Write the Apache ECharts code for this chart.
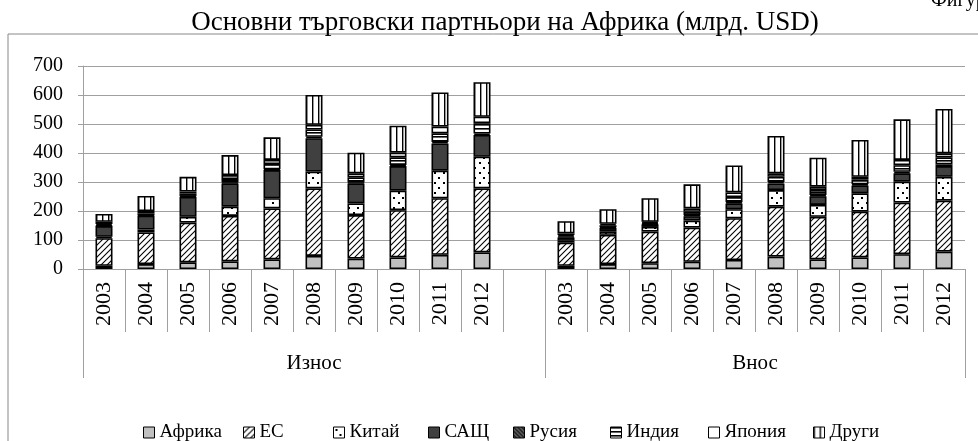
<!DOCTYPE html>
<html>
<head>
<meta charset="utf-8">
<script src="https://cdn.jsdelivr.net/npm/echarts@6/dist/echarts.min.js"></script>
<style>
html,body{margin:0;padding:0;background:#fff;}
#c{width:978px;height:441px;}
</style>
</head>
<body>
<div id="c"></div>
<script>
var years = ['2003','2004','2005','2006','2007','2008','2009','2010','2011','2012'];
var groupNames = ['Износ', 'Внос'];
var seriesNames = ['Африка','ЕС','Китай','САЩ','Русия','Индия','Япония','Други'];
var yTicks = [0,100,200,300,400,500,600,700];

var expAfrica = [11,17,23,26,33,45,36,40,49,57];
var expEU     = [95,109,137,157,176,233,150,163,195,221];
var expChina  = [5,10,20,32,35,58,40,67,95,109];
var expUSA    = [37,48,69,80,97,115,69,85,94,75];
var expRussia = [2,2,3,3,3,5,3,4,5,5];
var expIndia  = [5,6,8,12,18,25,18,26,30,36];
var expJapan  = [8,8,7,14,14,16,14,16,23,22];
var expOther  = [27,52,51,69,78,103,71,93,118,119];

var impAfrica = [11,17,20,25,31,43,33,40,51,60];
var impEU     = [80,101,109,118,144,172,147,158,178,176];
var impChina  = [6,12,16,24,31,57,41,63,72,82];
var impUSA    = [12,12,8,15,20,23,30,27,29,37];
var impRussia = [3,3,2,3,4,5,4,4,5,6];
var impIndia  = [5,6,4,12,18,18,17,16,23,24];
var impJapan  = [6,5,4,12,16,12,12,10,18,14];
var impOther  = [42,50,81,83,93,129,100,127,140,153];

var expData = [expAfrica,expEU,expChina,expUSA,expRussia,expIndia,expJapan,expOther];
var impData = [impAfrica,impEU,impChina,impUSA,impRussia,impIndia,impJapan,impOther];

// categories: export years, one empty gap, import years
var categories = years.concat(['']).concat(years);
var nExp = years.length + 1, nImp = years.length, nAll = categories.length;

function pattern(w, h, draw) {
  var cv = document.createElement('canvas');
  cv.width = w; cv.height = h;
  var ctx = cv.getContext('2d');
  ctx.fillStyle = '#fff'; ctx.fillRect(0,0,w,h);
  ctx.fillStyle = '#000'; ctx.strokeStyle = '#000';
  draw(ctx, w, h);
  return {image: cv, repeat: 'repeat'};
}
var fills = [
  '#c0c0c0',
  pattern(6, 6, function(c,w,h){ c.lineWidth=1.1;
     [-w, 0, w].forEach(function(o){ c.beginPath(); c.moveTo(o-1,h+1); c.lineTo(o+w+1,-1); c.stroke(); }); }),
  pattern(9, 10, function(c){ c.fillRect(2,2,2,2); c.fillRect(6,7,2,2); }),
  '#404040',
  pattern(4, 4, function(c,w,h){ c.fillStyle='#555'; c.fillRect(0,0,w,h); c.lineWidth=1; c.strokeStyle='#000'; c.beginPath(); c.moveTo(0,0); c.lineTo(w,h); c.stroke(); }),
  pattern(4, 4, function(c,w){ c.fillRect(0,0,w,1.6); }),
  '#ffffff',
  pattern(6, 4, function(c,w,h){ c.fillRect(0,0,1.4,h); })
];

var series = seriesNames.map(function(name, i){
  return {
    name: name,
    type: 'bar',
    stack: 'total',
    barWidth: 17,
    xAxisIndex: 0,
    data: expData[i].concat([null]).concat(impData[i]),
    itemStyle: {color: fills[i], borderColor: '#000', borderWidth: 1.6},
    emphasis: {disabled: true}
  };
});

var serif = 'Liberation Serif, Times New Roman, serif';
var grey = '#a0a0a0';

// one legend per item so each sits where the reference has it
var legendLefts = [143, 243, 333, 428, 513, 610, 708, 813];
var legends = seriesNames.map(function(name, i){
  return {
    data: [name], left: legendLefts[i], top: 423, itemWidth: 11, itemHeight: 11, icon: 'rect',
    padding: 0, selectedMode: false,
    itemStyle: {borderColor: '#000', borderWidth: 1},
    textStyle: {fontFamily: serif, fontSize: 19, color: '#000'}
  };
});

var chart = echarts.init(document.getElementById('c'), null, {renderer: 'canvas'});
chart.setOption({
  animation: false,
  backgroundColor: '#fff',
  title: [
    {text: 'Основни търговски партньори на Африка (млрд. USD)', left: 500, textAlign: 'center', top: 4,
     textStyle: {fontFamily: serif, fontSize: 27, fontWeight: 'normal', color: '#000'}},
    {text: 'Фигура', left: 926, top: -14,
     textStyle: {fontFamily: serif, fontSize: 20, fontWeight: 'normal', color: '#000'}}
  ],
  graphic: [{type: 'rect', silent: true, shape: {x: 8, y: 34, width: 1100, height: 600},
             style: {fill: 'none', stroke: '#888', lineWidth: 1}}],
  grid: {left: 83, right: 13, top: 66, bottom: 172},
  legend: legends,
  xAxis: [
    {type: 'category', data: categories, boundaryGap: true,
     axisLine: {show: true, lineStyle: {color: grey}},
     axisTick: {show: true, interval: 0, length: 63, lineStyle: {color: grey}},
     axisLabel: {interval: 0, rotate: 90, margin: 13, fontFamily: serif, fontSize: 22, color: '#000'},
     splitLine: {show: false}},
    {type: 'value', position: 'bottom', min: 0, max: nAll,
     axisLine: {show: false},
     axisTick: {show: true, length: 109, customValues: [0, nExp, nAll], lineStyle: {color: grey}},
     axisLabel: {customValues: [nExp / 2, nExp + nImp / 2], margin: 84, fontFamily: serif, fontSize: 21, color: '#000',
       formatter: function(v){ return v < nExp ? groupNames[0] : groupNames[1]; }},
     splitLine: {show: false}}
  ],
  yAxis: {
    type: 'value', min: yTicks[0], max: yTicks[yTicks.length-1], interval: yTicks[1]-yTicks[0],
    axisLine: {show: true, lineStyle: {color: grey}},
    axisTick: {show: true, length: 5, lineStyle: {color: grey}},
    axisLabel: {margin: 20, fontFamily: serif, fontSize: 20, color: '#000'},
    splitLine: {show: true, lineStyle: {color: grey, width: 1}}
  },
  series: series
});
</script>
</body>
</html>
